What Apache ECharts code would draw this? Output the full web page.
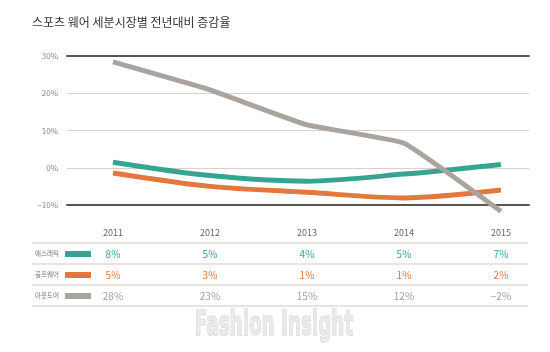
<!DOCTYPE html>
<html lang="ko">
<head>
<meta charset="UTF-8">
<title>스포츠 웨어 세분시장별 전년대비 증감율</title>
<script src="https://cdn.jsdelivr.net/npm/echarts@6/dist/echarts.min.js"></script>
<style>
  html, body { margin: 0; padding: 0; background: #fff; }
  #chart { width: 550px; height: 352px; }
</style>
</head>
<body>
<div id="chart"></div>
<script>
// 데이터
var years = [2011, 2012, 2013, 2014, 2015];
var seriesNames = ['애스레틱', '골프웨어', '아웃도어'];
var athletic = [1.5, -2.1, -3.6, -1.7, 0.9];
var golf = [-1.4, -5.0, -6.6, -8.1, -6.0];
var outdoor = [28.4, 20.9, 11.5, 6.6, -11.7];
// 표에 적힌 값
var athleticLabels = ['8%', '5%', '4%', '5%', '7%'];
var golfLabels = ['5%', '3%', '1%', '1%', '2%'];
var outdoorLabels = ['28%', '23%', '15%', '12%', '−2%'];
var yTicks = [-10, 0, 10, 20, 30];

var colors = ['#35a592', '#e2773f', '#aaa4a0'];
var font = '"Noto Sans CJK KR", "Noto Sans", sans-serif';

var chart = echarts.init(document.getElementById('chart'));

function pairs(vals) {
  return years.map(function (y, i) { return [y, vals[i]]; });
}

var frameAxis = {
  type: 'value', min: 2010.526, max: 2015.289,
  axisLine: { show: true, onZero: false, lineStyle: { color: '#5a5450', width: 2 } },
  axisTick: { show: false }, axisLabel: { show: false }, splitLine: { show: false }
};

chart.setOption({
  animation: false,
  title: {
    text: '스포츠 웨어 세분시장별 전년대비 증감율',
    left: 27, top: 11,
    textStyle: { fontSize: 12, fontWeight: 'normal', color: '#333', fontFamily: font }
  },
  grid: { left: 67, right: 21, top: 56, bottom: 147 },
  xAxis: [
    Object.assign({}, frameAxis, { position: 'bottom' }),
    Object.assign({}, frameAxis, { position: 'top' })
  ],
  yAxis: {
    type: 'value', min: yTicks[0], max: yTicks[yTicks.length - 1], interval: 10,
    axisLine: { show: false }, axisTick: { show: false },
    axisLabel: {
      margin: 9, fontSize: 8, color: '#888', fontFamily: font,
      formatter: function (v) { return (v < 0 ? '−' + (-v) : v) + '%'; }
    },
    splitLine: { lineStyle: { color: '#dccfc7', width: 1 } }
  },
  series: [
    { name: seriesNames[0], type: 'line', data: pairs(athletic), smooth: 0.3, symbol: 'none',
      clip: false, lineStyle: { color: colors[0], width: 5 }, z: 3 },
    { name: seriesNames[1], type: 'line', data: pairs(golf), smooth: 0.3, symbol: 'none',
      clip: false, lineStyle: { color: colors[1], width: 5 }, z: 2 },
    { name: seriesNames[2], type: 'line', data: pairs(outdoor), smooth: 0.1, symbol: 'none',
      clip: false, lineStyle: { color: colors[2], width: 5 }, z: 4 }
  ]
});

// 하단 표
var xs = years.map(function (y) { return chart.convertToPixel({ xAxisIndex: 0 }, y); });
var rowLines = [243, 264, 285, 306];
var rowMid = [254, 275, 296];
var rowLabels = [athleticLabels, golfLabels, outdoorLabels];
var valueColors = [colors[0], colors[1], '#a39d99'];
var g = [];

years.forEach(function (y, i) {
  g.push({ type: 'text', x: xs[i], y: 233, style: {
    text: String(y), fontSize: 9, fill: '#666', fontFamily: font, align: 'center', verticalAlign: 'middle' } });
});
rowLines.forEach(function (ly) {
  g.push({ type: 'line', shape: { x1: 32, y1: ly, x2: 528, y2: ly },
    style: { stroke: '#d6c9c1', lineWidth: 1.2 } });
});
seriesNames.forEach(function (n, r) {
  g.push({ type: 'text', x: 35, y: rowMid[r], style: {
    text: n, fontSize: 6.5, fill: '#777', fontFamily: font, verticalAlign: 'middle' } });
  g.push({ type: 'rect', shape: { x: 65, y: rowMid[r] - 3, width: 26, height: 6 },
    style: { fill: colors[r] } });
  rowLabels[r].forEach(function (t, i) {
    g.push({ type: 'text', x: xs[i], y: rowMid[r], style: {
      text: t, fontSize: 10, fill: valueColors[r], fontFamily: font, align: 'center', verticalAlign: 'middle' } });
  });
});
// 워터마크
g.push({ type: 'text', x: 274, y: 326, scaleX: 0.54, z: 10, style: {
  text: 'Fashion Insight', fontSize: 34, fontWeight: 'bold',
  fontFamily: '"DejaVu Sans", sans-serif',
  fill: '#eaeaea', stroke: '#c4c4c4', lineWidth: 1,
  align: 'center', verticalAlign: 'middle' } });

chart.setOption({ graphic: g });
</script>
</body>
</html>
